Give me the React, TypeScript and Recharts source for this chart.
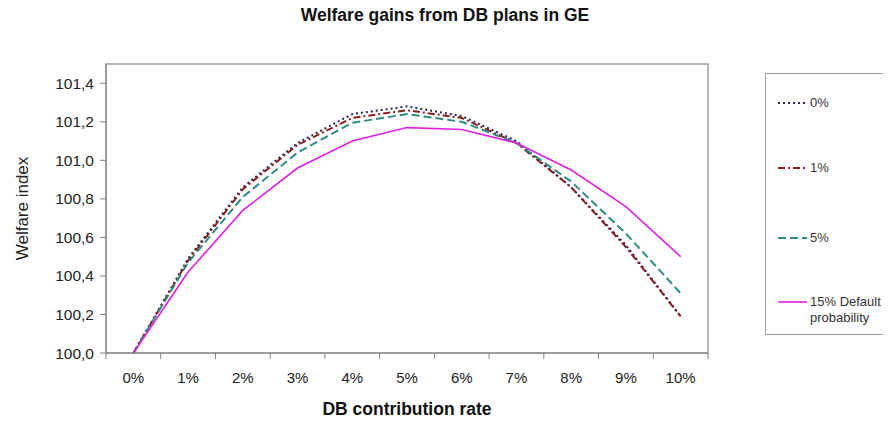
import React from "react";
import {
  Line,
  LineChart,
  ReferenceArea,
  XAxis,
  YAxis,
} from "recharts";

// contribution rate (%) on the x axis
const RATES = [0, 1, 2, 3, 4, 5, 6, 7, 8, 9, 10];

// welfare index per default probability
const P0 = [100.0, 100.49, 100.86, 101.09, 101.24, 101.28, 101.23, 101.1, 100.86, 100.56, 100.19];
const P1 = [100.0, 100.48, 100.85, 101.08, 101.22, 101.26, 101.22, 101.09, 100.86, 100.55, 100.19];
const P5 = [100.0, 100.47, 100.81, 101.04, 101.195, 101.24, 101.2, 101.09, 100.89, 100.62, 100.31];
const P15 = [100.0, 100.42, 100.74, 100.96, 101.1, 101.17, 101.16, 101.09, 100.95, 100.76, 100.5];

const Y_TICKS = [100.0, 100.2, 100.4, 100.6, 100.8, 101.0, 101.2, 101.4];

const SERIES = [
  { key: "p0", name: "0%", color: "#262660", dash: "2 3", width: 2 },
  { key: "p1", name: "1%", color: "#8b1c1c", dash: "7 3 2 3", width: 2 },
  { key: "p5", name: "5%", color: "#2e8b84", dash: "8 4", width: 2 },
  { key: "p15", name: "15% Default probability", color: "#e020e0", dash: undefined, width: 1.6 },
];

const data = RATES.map((r, i) => ({
  rate: r,
  p0: P0[i],
  p1: P1[i],
  p5: P5[i],
  p15: P15[i],
}));

const W = 883;
const H = 413;
const PLOT_LEFT = 98;
const PLOT_RIGHT = 700;
const HALF_STEP = (PLOT_RIGHT - PLOT_LEFT) / RATES.length / 2;
const FONT = "'Liberation Sans', Arial, sans-serif";

const XTick = (props: any) => {
  const { x, y, payload, index } = props;
  const axisY = y - 13;
  return (
    <g>
      <line x1={x - HALF_STEP} x2={x - HALF_STEP} y1={axisY} y2={axisY + 6} stroke="#808080" />
      {index === RATES.length - 1 && (
        <line x1={x + HALF_STEP} x2={x + HALF_STEP} y1={axisY} y2={axisY + 6} stroke="#808080" />
      )}
      <text x={x} y={y} dy={17} textAnchor="middle" fontSize={15} fill="#222" fontFamily={FONT}>
        {`${payload.value}%`}
      </text>
    </g>
  );
};

const LEGEND_ROWS = [29, 94, 164, 228];

const LegendBox = () => (
  <div
    style={{
      position: "absolute",
      left: 757,
      top: 65,
      width: 126,
      height: 262,
      border: "1px solid #a0a0a0",
      borderRight: "none",
      boxSizing: "border-box",
      fontFamily: FONT,
      fontSize: 13,
      color: "#333",
      background: "#fff",
    }}
  >
    {SERIES.map((s, i) => (
      <div key={s.key} style={{ position: "absolute", left: 12, top: LEGEND_ROWS[i] - 8, display: "flex" }}>
        <svg width={29} height={16} style={{ flex: "none" }}>
          <line x1={0} x2={29} y1={8} y2={8} stroke={s.color} strokeWidth={s.width} strokeDasharray={s.dash} />
        </svg>
        <span style={{ marginLeft: 3, lineHeight: "16px", width: 85 }}>
          {s.key === "p15" ? (
            <>
              15% Default
              <br />
              probability
            </>
          ) : (
            s.name
          )}
        </span>
      </div>
    ))}
  </div>
);

export default function App() {
  return (
    <div style={{ position: "relative", width: W, height: H, fontFamily: FONT }}>
      <LineChart
        width={W}
        height={H}
        data={data}
        margin={{ top: 56, right: W - PLOT_RIGHT, left: 10, bottom: 0 }}
      >
        <ReferenceArea
          x1={-0.5}
          x2={10.5}
          y1={100}
          y2={101.5}
          fill="none"
          stroke="#a0a0a0"
          strokeWidth={1.5}
          ifOverflow="visible"
        />
        <XAxis
          dataKey="rate"
          type="number"
          domain={[-0.5, 10.5]}
          ticks={RATES}
          tickLine={false}
          tickSize={5}
          tickMargin={8}
          tick={<XTick />}
          axisLine={{ stroke: "#808080" }}
          height={68}
          label={{
            value: "DB contribution rate",
            position: "insideBottom",
            offset: 6,
            style: { fontWeight: "bold", fontSize: 17.5, fill: "#111", fontFamily: FONT },
          }}
        />
        <YAxis
          type="number"
          domain={[100, 101.5]}
          ticks={Y_TICKS}
          width={88}
          tickSize={6}
          tickMargin={6}
          tickLine={{ stroke: "#808080" }}
          axisLine={{ stroke: "#808080" }}
          tick={{ fontSize: 15.5, fill: "#222", fontFamily: FONT }}
          tickFormatter={(v: number) => v.toFixed(1).replace(".", ",")}
          label={{
            value: "Welfare index",
            angle: -90,
            position: "insideLeft",
            offset: 4,
            style: { textAnchor: "middle", fontSize: 17, fill: "#222", fontFamily: FONT },
          }}
        />
        {SERIES.map((s) => (
          <Line
            key={s.key}
            type="linear"
            dataKey={s.key}
            name={s.name}
            stroke={s.color}
            strokeWidth={s.width}
            strokeDasharray={s.dash}
            dot={false}
            activeDot={false}
            isAnimationActive={false}
          />
        ))}
      </LineChart>
      <LegendBox />
      <div
        style={{
          position: "absolute",
          left: 0,
          top: -4,
          width: 874,
          zIndex: 2,
          textAlign: "center",
          fontWeight: "bold",
          fontSize: 17.5,
          lineHeight: "22px",
          color: "#111",
        }}
      >
        Welfare gains from DB plans in GE
      </div>
    </div>
  );
}
